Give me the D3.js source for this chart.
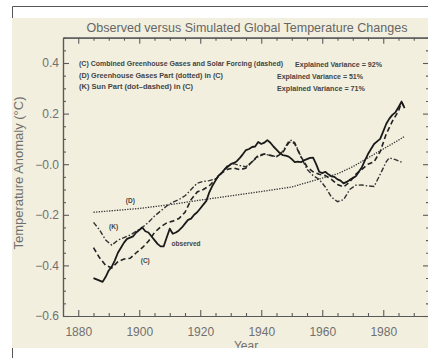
<!DOCTYPE html>
<html>
<head>
<meta charset="utf-8">
<script src="https://cdn.jsdelivr.net/npm/d3@7"></script>
<style>
  html, body { margin: 0; padding: 0; background: #ffffff; }
  svg { display: block; }
  text { font-family: "Liberation Sans", "DejaVu Sans", sans-serif; }
</style>
</head>
<body>
<svg id="chart" width="428" height="358"></svg>
<script>
// Observed global temperature anomaly (°C)
const obsYears = [1885,1886,1887,1888,1889,1890,1891,1892,1893,1894,1895,1896,1897,1898,1899,1900,1901,1902,1903,1904,1905,1906,1907,1908,1909,1910,1911,1912,1913,1914,1915,1916,1917,1918,1919,1920,1921,1922,1923,1924,1925,1926,1927,1928,1929,1930,1931,1932,1933,1934,1935,1936,1937,1938,1939,1940,1941,1942,1943,1944,1945,1946,1947,1948,1949,1950,1951,1952,1953,1954,1955,1956,1957,1958,1959,1960,1961,1962,1963,1964,1965,1966,1967,1968,1969,1970,1971,1972,1973,1974,1975,1976,1977,1978,1979,1980,1981,1982,1983,1984,1985,1986,1987];
const obsValues = [-0.45,-0.455,-0.46,-0.465,-0.445,-0.42,-0.405,-0.38,-0.35,-0.33,-0.31,-0.295,-0.29,-0.285,-0.27,-0.26,-0.25,-0.265,-0.27,-0.285,-0.30,-0.315,-0.325,-0.325,-0.29,-0.255,-0.275,-0.27,-0.262,-0.25,-0.235,-0.22,-0.215,-0.20,-0.19,-0.175,-0.16,-0.145,-0.11,-0.085,-0.065,-0.045,-0.035,-0.02,-0.01,0.0,0.005,0.012,0.025,0.04,0.056,0.06,0.068,0.07,0.088,0.08,0.085,0.095,0.085,0.07,0.058,0.045,0.036,0.034,0.03,0.02,0.008,0.01,0.008,0.015,0.02,0.025,0.026,0.0,-0.03,-0.035,-0.03,-0.04,-0.048,-0.05,-0.06,-0.065,-0.076,-0.07,-0.062,-0.055,-0.048,-0.03,-0.012,0.015,0.04,0.06,0.08,0.09,0.10,0.13,0.16,0.18,0.195,0.205,0.225,0.247,0.222];

// (C) combined greenhouse gases and solar forcing (dashed)
const combYears = [1885,1887,1889,1891,1893,1895,1897,1899,1901,1903,1905,1907,1909,1911,1913,1915,1917,1919,1921,1923,1925,1927,1929,1931,1933,1935,1937,1939,1941,1943,1945,1947,1949,1950,1951,1953,1955,1957,1959,1961,1963,1965,1967,1969,1971,1973,1975,1977,1979,1981,1983,1985,1986,1987];
const combValues = [-0.33,-0.37,-0.40,-0.41,-0.385,-0.375,-0.372,-0.35,-0.33,-0.305,-0.27,-0.248,-0.232,-0.225,-0.215,-0.19,-0.14,-0.11,-0.10,-0.085,-0.06,-0.035,-0.02,-0.015,-0.022,-0.015,0.01,0.035,0.04,0.035,0.03,0.045,0.085,0.09,0.08,0.03,-0.01,-0.03,-0.04,-0.045,-0.06,-0.08,-0.09,-0.07,-0.04,-0.02,0.0,0.01,0.05,0.12,0.17,0.21,0.245,0.225];

// (D) greenhouse gases part (dotted)
const ghgYears = [1885,1900,1910,1920,1930,1940,1950,1960,1965,1970,1975,1980,1985,1987];
const ghgValues = [-0.19,-0.175,-0.16,-0.142,-0.125,-0.108,-0.09,-0.055,-0.038,-0.01,0.025,0.06,0.095,0.11];

// (K) sun part (dot-dashed)
const sunYears = [1885,1887,1889,1891,1893,1895,1897,1899,1901,1903,1905,1907,1909,1911,1913,1915,1917,1919,1921,1923,1925,1927,1929,1931,1933,1935,1937,1939,1941,1943,1945,1947,1949,1950,1951,1953,1955,1957,1959,1961,1963,1965,1967,1969,1971,1973,1975,1977,1979,1981,1982,1984,1986];
const sunValues = [-0.23,-0.26,-0.30,-0.32,-0.30,-0.29,-0.28,-0.265,-0.25,-0.23,-0.205,-0.185,-0.165,-0.15,-0.14,-0.125,-0.10,-0.075,-0.068,-0.065,-0.058,-0.035,-0.005,0.002,-0.005,-0.01,0.01,0.03,0.04,0.035,0.03,0.05,0.09,0.095,0.085,0.03,-0.02,-0.045,-0.06,-0.09,-0.13,-0.148,-0.14,-0.10,-0.083,-0.082,-0.086,-0.088,-0.04,0.01,0.025,0.018,0.008];

// Axis ticks and labels
const xMajorTicks = [1880,1900,1920,1940,1960,1980];
const xTickLabels = ["1880","1900","1920","1940","1960","1980"];
const yMajorTicks = [-0.6,-0.4,-0.2,0.0,0.2,0.4];
const yTickLabels = ["\u22120.6","\u22120.4","\u22120.2","\u22120.0","0.2","0.4"];

const legendLines = [
  "(C) Combined Greenhouse Gases and Solar Forcing (dashed)",
  "(D) Greenhouse Gases Part (dotted) in (C)",
  "(K) Sun Part (dot\u2013dashed) in (C)"
];
const varianceLines = ["Explained Variance = 92%","Explained Variance = 51%","Explained Variance = 71%"];

const W = 428, H = 358;
const plot = {left: 63, right: 429, top: 37.7, bottom: 316};
const svg = d3.select("#chart");

const x = d3.scaleLinear().domain([1875, 1995]).range([plot.left, plot.right]);
const y = d3.scaleLinear().domain([-0.6, 0.5]).range([plot.bottom, plot.top]);

// page frame and panel
svg.append("rect").attr("width", W).attr("height", H).attr("fill", "#ffffff");
svg.append("path").attr("d", `M12.5,${H} V6.5 H${W}`).attr("fill", "none").attr("stroke", "#555").attr("stroke-width", 1);
svg.append("rect").attr("x", 12).attr("y", 18).attr("width", W - 12).attr("height", 330).attr("fill", "#f2efdf");

const axisColor = "#5a5a5a";
const minorYears = d3.range(1880, 1996, 5).filter(v => !xMajorTicks.includes(v));
const minorVals = d3.range(-0.6, 0.5001, 0.05).map(v => +v.toFixed(2)).filter(v => !yMajorTicks.includes(v));

function styleAxis(g) {
  g.selectAll("path.domain").attr("stroke", axisColor).attr("stroke-width", 1.2);
  g.selectAll(".tick line").attr("stroke", axisColor).attr("stroke-width", 1.1);
}

// bottom axis: ticks pointing into the plot
svg.append("g").attr("transform", `translate(0,${plot.bottom})`)
  .call(d3.axisTop(x).tickValues(xMajorTicks).tickSize(6).tickSizeOuter(0).tickFormat(""))
  .call(styleAxis);
svg.append("g").attr("transform", `translate(0,${plot.bottom})`)
  .call(d3.axisTop(x).tickValues(minorYears).tickSize(3).tickSizeOuter(0).tickFormat(""))
  .call(styleAxis);
// top axis
svg.append("g").attr("transform", `translate(0,${plot.top})`)
  .call(d3.axisBottom(x).tickValues(xMajorTicks).tickSize(6).tickSizeOuter(0).tickFormat(""))
  .call(styleAxis);
svg.append("g").attr("transform", `translate(0,${plot.top})`)
  .call(d3.axisBottom(x).tickValues(minorYears).tickSize(3).tickSizeOuter(0).tickFormat(""))
  .call(styleAxis);
// left axis
svg.append("g").attr("transform", `translate(${plot.left},0)`)
  .call(d3.axisRight(y).tickValues(yMajorTicks).tickSize(6).tickSizeOuter(0).tickFormat(""))
  .call(styleAxis);
svg.append("g").attr("transform", `translate(${plot.left},0)`)
  .call(d3.axisRight(y).tickValues(minorVals).tickSize(3).tickSizeOuter(0).tickFormat(""))
  .call(styleAxis);
// right axis
svg.append("g").attr("transform", `translate(${plot.right},0)`)
  .call(d3.axisLeft(y).tickValues(yMajorTicks).tickSize(6).tickSizeOuter(0).tickFormat(""))
  .call(styleAxis);
svg.append("g").attr("transform", `translate(${plot.right},0)`)
  .call(d3.axisLeft(y).tickValues(minorVals).tickSize(3).tickSizeOuter(0).tickFormat(""))
  .call(styleAxis);

// tick labels
const xLab = svg.append("g").attr("transform", `translate(0,${plot.bottom})`)
  .call(d3.axisBottom(x).tickValues(xMajorTicks).tickSize(0).tickPadding(11)
    .tickFormat((d, i) => xTickLabels[i]));
xLab.select("path.domain").remove();
xLab.selectAll("text").attr("font-size", 12).attr("fill", "#707070")
  .attr("font-family", "Liberation Sans, sans-serif");

const yLab = svg.append("g").attr("transform", `translate(${plot.left},0)`)
  .call(d3.axisLeft(y).tickValues(yMajorTicks).tickSize(0).tickPadding(4)
    .tickFormat((d, i) => yTickLabels[i]));
yLab.select("path.domain").remove();
yLab.selectAll("text").attr("font-size", 12).attr("fill", "#707070")
  .attr("font-family", "Liberation Sans, sans-serif");

// title and axis titles
svg.append("text").attr("x", 247).attr("y", 32).attr("text-anchor", "middle")
  .attr("font-size", 13).attr("fill", "#666")
  .attr("textLength", 321).attr("lengthAdjust", "spacingAndGlyphs")
  .text("Observed versus Simulated Global Temperature Changes");

svg.append("text").attr("transform", "translate(23,173) rotate(-90)").attr("text-anchor", "middle")
  .attr("font-size", 12).attr("fill", "#707070")
  .attr("textLength", 153).attr("lengthAdjust", "spacingAndGlyphs")
  .text("Temperature Anomaly (\u00B0C)");

svg.append("text").attr("x", 246).attr("y", 350).attr("text-anchor", "middle")
  .attr("font-size", 12).attr("fill", "#707070").text("Year");

// legend text
const legX = [79, 79, 79], legY = [66, 77.5, 89], legLen = [204, 144, 114];
const varX = [295, 277, 277], varY = [67, 79, 91], varLen = [87, 86, 88];
legendLines.forEach((t, i) => {
  svg.append("text").attr("x", legX[i]).attr("y", legY[i]).attr("font-size", 7)
    .attr("font-weight", "bold").attr("fill", "#444")
    .attr("textLength", legLen[i]).attr("lengthAdjust", "spacingAndGlyphs").text(t);
});
varianceLines.forEach((t, i) => {
  svg.append("text").attr("x", varX[i]).attr("y", varY[i]).attr("font-size", 7)
    .attr("font-weight", "bold").attr("fill", "#444")
    .attr("textLength", varLen[i]).attr("lengthAdjust", "spacingAndGlyphs").text(t);
});

// series
const line = (xs, ys) => d3.line().x((d, i) => x(xs[i])).y(d => y(d))(ys);

svg.append("path").attr("d", line(ghgYears, ghgValues)).attr("fill", "none")
  .attr("stroke", "#333").attr("stroke-width", 1.3).attr("stroke-dasharray", "1.3,1.3");
svg.append("path").attr("d", line(sunYears, sunValues)).attr("fill", "none")
  .attr("stroke", "#333").attr("stroke-width", 1.4).attr("stroke-dasharray", "5,2,1.5,2");
svg.append("path").attr("d", line(combYears, combValues)).attr("fill", "none")
  .attr("stroke", "#222").attr("stroke-width", 1.6).attr("stroke-dasharray", "5,3");
svg.append("path").attr("d", line(obsYears, obsValues)).attr("fill", "none")
  .attr("stroke", "#1a1a1a").attr("stroke-width", 1.8).attr("stroke-linejoin", "round");

// curve labels
const curveLabels = [
  {t: "(D)", yr: 1895.6, v: -0.155},
  {t: "(K)", yr: 1890.1, v: -0.255},
  {t: "(C)", yr: 1900.5, v: -0.39},
  {t: "observed", yr: 1910.6, v: -0.325}
];
curveLabels.forEach(c => {
  svg.append("text").attr("x", x(c.yr)).attr("y", y(c.v)).attr("font-size", 6.5)
    .attr("font-weight", "bold").attr("fill", "#444").text(c.t);
});

// bottom strip of the page
svg.append("rect").attr("x", 0).attr("y", 348).attr("width", W).attr("height", 10).attr("fill", "#ffffff");
svg.append("line").attr("x1", 12.5).attr("x2", 12.5).attr("y1", 348).attr("y2", H)
  .attr("stroke", "#555").attr("stroke-width", 1);
</script>
</body>
</html>
